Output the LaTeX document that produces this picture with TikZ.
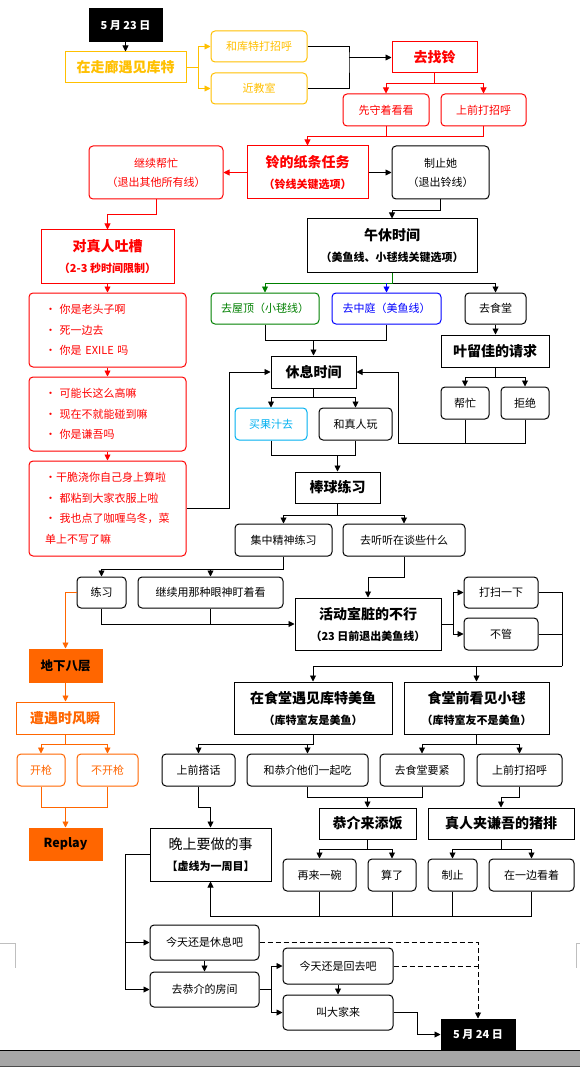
\documentclass[tikz,border=0pt]{standalone}
\usepackage{fontspec}
\setmainfont{Noto Sans CJK SC}
\usetikzlibrary{arrows.meta}
\definecolor{cyel}{HTML}{FFC000}
\definecolor{cred}{HTML}{FF0000}
\definecolor{cgreen}{HTML}{008000}
\definecolor{cblue}{HTML}{0000FF}
\definecolor{ccyan}{HTML}{00B0F0}
\definecolor{corange}{HTML}{FF6600}
\definecolor{cband}{HTML}{A6A6A6}
\newcommand\mybx[7]{\node[#1, minimum width={(#5-#3)*1pt}, minimum height={(#6-#4)*1pt}] (#2) at ({(#3+#5)/2},{(#4+#6)/2}) {#7};}
\newcommand\mytitle[1]{{\fontsize{14}{21}\selectfont #1}}
\begin{document}
\begin{tikzpicture}[x=1pt,y=-1pt, >={Triangle[length=6pt,width=6pt]}, line width=0.9pt,
  box/.style={draw, rectangle, inner sep=0pt, align=center, line width=1pt, font=\fontsize{11}{14}\selectfont},
  rbox/.style={box, rounded corners=4pt},
  big/.style={font=\fontsize{14}{17}\selectfont\bfseries},
  two/.style={font=\fontsize{11}{21}\selectfont\bfseries},
  ntwo/.style={font=\fontsize{11}{19}\selectfont},
  blk/.style={box, fill=black, text=white, font=\fontsize{11}{14}\selectfont\bfseries},
  ofill/.style={box, draw=corange, fill=corange, text=black, font=\fontsize{12.5}{15}\selectfont\bfseries},
  bul/.style={rbox, draw=cred, text=cred, align=left, text width=125pt, font=\fontsize{11}{20.5}\selectfont},
  dsh/.style={dash pattern=on 5pt off 3pt}]
\fill[white] (0,0) rectangle (580,1083);
\useasboundingbox (0,0) rectangle (580,1083);
% bottom band and page marks
\fill[cband] (0,1051) rectangle (580,1066);
\draw[line width=1.6pt] (0,1050.5) -- (580,1050.5);
\draw[line width=0.8pt, black!70] (0,1066) -- (580,1066);
\draw[line width=0.6pt, black!25] (0,943) -- (15,943) -- (15,968);
\draw[line width=0.6pt, black!25] (580,943) -- (576,943) -- (576,968);

% nodes
\mybx{blk}{d23}{89}{9}{162}{42}{5 月 23 日}
\mybx{box,draw=cyel,text=cyel,big}{zl}{65}{52}{186}{83}{在走廊遇见库特}
\mybx{rbox,draw=cyel,text=cyel}{hk}{211}{31}{307}{62}{和库特打招呼}
\mybx{rbox,draw=cyel,text=cyel}{jj}{211}{73}{307}{104}{近教室}
\mybx{box,draw=cred,text=cred,big}{qz}{392}{42}{477}{73}{去找铃}
\mybx{rbox,draw=cred,text=cred}{xs}{343}{94}{429}{126}{先守着看看}
\mybx{rbox,draw=cred,text=cred}{sq}{441}{94}{526}{126}{上前打招呼}
\mybx{box,draw=cred,text=cred,two}{lz}{247}{146}{368}{199}{\mytitle{铃的纸条任务}\\（铃线关键选项）}
\mybx{rbox,draw=cred,text=cred,ntwo}{jx}{89}{146}{223}{199}{继续帮忙\\（退出其他所有线）}
\mybx{rbox,ntwo}{zz}{392}{146}{489}{199}{制止她\\（退出铃线）}
\mybx{box,draw=cred,text=cred,two}{dz}{41}{230}{174}{283}{\mytitle{对真人吐槽}\\（2-3 秒时间限制）}
\mybx{bul}{b1}{29}{293}{186}{367}{• 你是老头子啊\\• 死一边去\\• 你是 EXILE 吗}
\mybx{bul}{b2}{29}{377}{186}{451}{• 可能长这么高嘛\\• 现在不就能碰到嘛\\• 你是谦吾吗}
\mybx{bul}{b3}{29}{461}{186}{556}{•干脆浇你自己身上算啦\\• 都粘到大家衣服上啦\\• 我也点了咖喱乌冬，菜\\单上不写了嘛}
\mybx{box,two}{wx}{307}{219}{477}{272}{\mytitle{午休时间}\\（美鱼线、小毬线关键选项）}
\mybx{rbox,draw=cgreen,text=cgreen}{wd}{211}{293}{319}{324}{去屋顶（小毬线）}
\mybx{rbox,draw=cblue,text=cblue}{zt}{332}{293}{441}{324}{去中庭（美鱼线）}
\mybx{rbox}{qs}{465}{293}{526}{324}{去食堂}
\mybx{box,big}{xx}{271}{356}{356}{388}{休息时间}
\mybx{box,big}{yl}{441}{335}{549}{367}{叶留佳的请求}
\mybx{rbox,draw=ccyan,text=ccyan}{mg}{235}{408}{307}{440}{买果汁去}
\mybx{rbox}{zr}{319}{408}{392}{440}{和真人玩}
\mybx{rbox}{bm}{441}{387}{489}{419}{帮忙}
\mybx{rbox}{jue}{501}{387}{549}{419}{拒绝}
\mybx{box,big}{bq}{295}{472}{380}{503}{棒球练习}
\mybx{rbox}{jz}{235}{524}{332}{556}{集中精神练习}
\mybx{rbox}{qt}{343}{524}{465}{556}{去听听在谈些什么}
\mybx{rbox}{lx}{77}{577}{126}{608}{练习}
\mybx{rbox}{jy}{138}{577}{283}{608}{继续用那种眼神盯着看}
\mybx{box,two}{hd}{295}{598}{441}{650}{\mytitle{活动室脏的不行}\\（23 日前退出美鱼线）}
\mybx{rbox}{ds}{464}{577}{538}{608}{打扫一下}
\mybx{rbox}{bg}{464}{618}{538}{650}{不管}
\mybx{ofill}{dx}{29}{649}{102}{682}{地下八层}
\mybx{box,draw=corange,text=corange,big}{zy}{16}{702}{114}{734}{遭遇时风瞬}
\mybx{rbox,draw=corange,text=corange}{kq}{17}{754}{65}{786}{开枪}
\mybx{rbox,draw=corange,text=corange}{bk}{77}{754}{138}{786}{不开枪}
\mybx{ofill}{rp}{29}{828}{102}{860}{Replay}
\mybx{box,two}{st}{234}{682}{392}{734}{\mytitle{在食堂遇见库特美鱼}\\（库特室友是美鱼）}
\mybx{box,two}{sx}{404}{682}{549}{734}{\mytitle{食堂前看见小毬}\\（库特室友不是美鱼）}
\mybx{rbox}{sd}{162}{754}{235}{786}{上前搭话}
\mybx{rbox}{hj}{247}{754}{368}{786}{和恭介他们一起吃}
\mybx{rbox}{qy}{380}{754}{464}{786}{去食堂要紧}
\mybx{rbox}{sz}{477}{754}{562}{786}{上前打招呼}
\mybx{box,two}{ws}{150}{828}{271}{881}{{\fontsize{14}{21}\selectfont\mdseries 晚上要做的事}\\【虚线为一周目】}
\mybx{box,big}{gj}{319}{808}{416}{839}{恭介来添饭}
\mybx{box,big}{zj}{428}{808}{574}{839}{真人夹谦吾的猪排}
\mybx{rbox}{zl2}{283}{859}{356}{891}{再来一碗}
\mybx{rbox}{sl}{368}{859}{416}{891}{算了}
\mybx{rbox}{zzh}{428}{859}{477}{891}{制止}
\mybx{rbox}{zb}{489}{859}{574}{891}{在一边看着}
\mybx{rbox}{jt}{150}{925}{259}{960}{今天还是休息吧}
\mybx{rbox}{qg}{150}{972}{259}{1007}{去恭介的房间}
\mybx{rbox}{hq}{283}{948}{393}{984}{今天还是回去吧}
\mybx{rbox}{jd}{283}{995}{393}{1030}{叫大家来}
\mybx{blk}{d24}{441}{1019}{515}{1050}{5 月 24 日}

% connectors top
\draw[->] (d23.south) -- (zl.north);
\draw[cyel,->] (zl.east) -- ++(12,0) coordinate (j1) |- (hk.west);
\draw[cyel,->] (j1) |- (jj.west);
\coordinate (j2) at (349,57.5);
\draw (hk.east) -| (j2) |- (jj.east);
\draw[->] (j2) -- (qz.west);
\coordinate (j3) at (0,83);
\draw[cred] (qz.south) -- (qz.south|-j3);
\draw[cred,->] (qz.south|-j3) -| (xs.north);
\draw[cred,->] (qz.south|-j3) -| (sq.north);
\coordinate (j4) at (0,136);
\draw[cred] (xs.south) -- (xs.south|-j4);
\draw[cred,->] (sq.south) |- (lz.north|-j4) -- (lz.north);
\draw[cred,->] (lz.west) -- (jx.east);
\draw[->] (lz.east) -- (zz.west);
\draw[cred,->] (jx.south) -- ++(0,15) -| (dz.north);
\draw[cred,->] (dz.south) -- (b1.north);
\draw[cred,->] (b1.south) -- (b2.north);
\draw[cred,->] (b2.south) -- (b3.north);
\draw[->] (b3.east) -- ++(43,0) |- (xx.west);
% lunch
\draw[->] (zz.south) -- ++(0,11) -| (wx.north);
\coordinate (j5) at (0,283);
\draw (wx.south|-j5) -- (qs.north|-j5);
\draw[->] (qs.north|-j5) -- (qs.north);
\draw[cgreen] (wx.south) -- (wx.south|-j5) -- (wd.north|-j5);
\draw[cgreen,->] (wd.north|-j5) -- (wd.north);
\draw[cblue,->] (zt.north|-j5) -- (zt.north);
\coordinate (j6) at (0,340);
\draw (wd.south) |- (zt.south|-j6) -- (zt.south);
\draw[->] (xx.north|-j6) -- (xx.north);
\coordinate (j7) at (0,397);
\draw (xx.south) -- (xx.south|-j7);
\draw (mg.north|-j7) -- (zr.north|-j7);
\draw[->] (mg.north|-j7) -- (mg.north);
\draw[->] (zr.north|-j7) -- (zr.north);
\coordinate (j8) at (0,455);
\draw (mg.south) |- (zr.south|-j8) -- (zr.south);
\draw[->] (bq.north|-j8) -- (bq.north);
\draw[->] (qs.south) -- (qs.south|-yl.north);
\coordinate (j9) at (0,377);
\draw (yl.south) -- (yl.south|-j9);
\draw (bm.north|-j9) -- (jue.north|-j9);
\draw[->] (bm.north|-j9) -- (bm.north);
\draw[->] (jue.north|-j9) -- (jue.north);
\coordinate (j10) at (398,443);
\draw (bm.south) -- (bm.south|-j10);
\draw[->] (jue.south) |- (j10) |- (xx.east);
% baseball
\coordinate (j11) at (0,515);
\draw (bq.south) -- (bq.south|-j11);
\draw (jz.north|-j11) -- (qt.north|-j11);
\draw[->] (jz.north|-j11) -- (jz.north);
\draw[->] (qt.north|-j11) -- (qt.north);
\coordinate (j12) at (0,569);
\draw (jz.south) -- (jz.south|-j12) -- (lx.north|-j12);
\draw[->] (lx.north|-j12) -- (lx.north);
\draw[->] (jy.north|-j12) -- (jy.north);
\draw[->] (lx.south) |- (hd.west);
\draw (jy.south) -- (jy.south|-hd.west);
\draw[->] (qt.south) -- ++(0,21) -| (hd.north);
\draw[->] (hd.east) -- ++(12,0) coordinate (j13) |- (ds.west);
\draw[->] (j13) |- (bg.west);
\coordinate (j14) at (562,666);
\draw (ds.east) -| (j14);
\draw (bg.east) -- (bg.east-|j14);
\draw (j14) -- (st.north|-j14);
\draw[->] (st.north|-j14) -- (st.north);
\draw[->] (sx.north|-j14) -- (sx.north);
% orange
\draw[corange,->] (lx.west) -| (dx.north);
\draw[corange,->] (dx.south) -- (dx.south|-zy.north);
\coordinate (j15) at (0,744);
\draw[corange] (zy.south) -- (zy.south|-j15);
\draw[corange] (kq.north|-j15) -- (bk.north|-j15);
\draw[corange,->] (kq.north|-j15) -- (kq.north);
\draw[corange,->] (bk.north|-j15) -- (bk.north);
\coordinate (j16) at (0,807);
\draw[corange] (kq.south) |- (bk.south|-j16) -- (bk.south);
\draw[corange,->] (rp.north|-j16) -- (rp.north);
% cafeteria
\draw (st.south) -- (st.south|-j15) -- (sd.north|-j15);
\draw[->] (sd.north|-j15) -- (sd.north);
\draw[->] (hj.north|-j15) -- (hj.north);
\draw (sx.south) -- (sx.south|-j15);
\draw (qy.north|-j15) -- (sz.north|-j15);
\draw[->] (qy.north|-j15) -- (qy.north);
\draw[->] (sz.north|-j15) -- (sz.north);
\draw[->] (sd.south) -- ++(0,21) -| (ws.north);
\coordinate (j17) at (0,797);
\draw (hj.south) |- (qy.south|-j17) -- (qy.south);
\draw[->] (gj.north|-j17) -- (gj.north);
\draw[->] (sz.south) |- (zj.north|-j17) -- (zj.north);
\coordinate (j18) at (0,849);
\draw (gj.south) -- (gj.south|-j18);
\draw (zl2.north|-j18) -- (sl.north|-j18);
\draw[->] (zl2.north|-j18) -- (zl2.north);
\draw[->] (sl.north|-j18) -- (sl.north);
\draw (zj.south) -- (zj.south|-j18);
\draw (zzh.north|-j18) -- (zb.north|-j18);
\draw[->] (zzh.north|-j18) -- (zzh.north);
\draw[->] (zb.north|-j18) -- (zb.north);
\coordinate (j19) at (0,916);
\draw (zl2.south) -- (zl2.south|-j19);
\draw (sl.south) -- (sl.south|-j19);
\draw (zzh.south) -- (zzh.south|-j19);
\draw[->] (zb.south) |- (ws.south|-j19) -- (ws.south);
% evening
\draw (ws.west) -- ++(-24,0) coordinate (j20) -- (j20|-qg.west);
\draw[->] (j20|-jt.west) -- (jt.west);
\draw[->] (j20|-qg.west) -- (qg.west);
\draw[->] (jt.south) -- (qg.north);
\draw[->] (qg.east) -- ++(12,0) coordinate (j21) |- (hq.west);
\draw[->] (j21) |- (jd.west);
\draw[->] (hq.south) -- (jd.north);
\draw[->] (jd.east) -- ++(24,0) |- (d24.west);
\draw[dsh,->] (jt.east) -| (d24.north);
\draw[dsh] (hq.east) -- (hq.east -| d24.north);
\end{tikzpicture}
\end{document}
